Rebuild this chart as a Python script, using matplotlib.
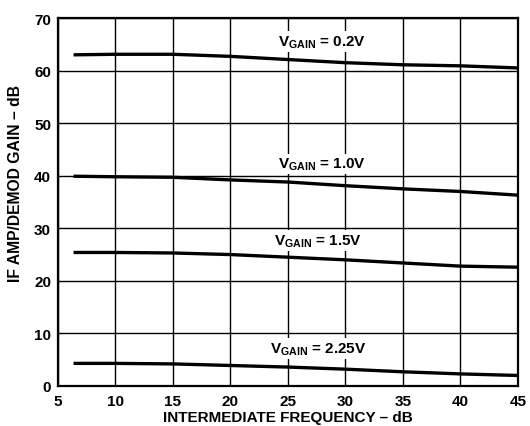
import matplotlib
matplotlib.use("Agg")
import matplotlib.pyplot as plt

plt.rcParams['font.family'] = ['Liberation Sans', 'DejaVu Sans']
plt.rcParams['font.weight'] = 'bold'
plt.rcParams['mathtext.fontset'] = 'custom'
plt.rcParams['mathtext.rm'] = 'Liberation Sans:bold'
plt.rcParams['mathtext.it'] = 'Liberation Sans:bold'
plt.rcParams['mathtext.bf'] = 'Liberation Sans:bold'

freq = [6.5, 10, 15, 20, 25, 30, 35, 40, 45]
gain_02 = [63.0, 63.1, 63.1, 62.7, 62.1, 61.5, 61.1, 60.9, 60.5]
gain_10 = [39.9, 39.8, 39.7, 39.2, 38.8, 38.1, 37.5, 37.0, 36.3]
gain_15 = [25.4, 25.4, 25.3, 25.0, 24.5, 24.0, 23.4, 22.8, 22.6]
gain_225 = [4.3, 4.3, 4.2, 3.9, 3.6, 3.2, 2.7, 2.3, 2.0]

labels = ["V$_{\\mathrm{GAIN}}$ = 0.2V", "V$_{\\mathrm{GAIN}}$ = 1.0V",
          "V$_{\\mathrm{GAIN}}$ = 1.5V", "V$_{\\mathrm{GAIN}}$ = 2.25V"]
label_x = [28.0, 28.0, 27.6, 27.6]
label_y = [65.5, 42.2, 27.7, 7.1]

xticks = [5, 10, 15, 20, 25, 30, 35, 40, 45]
yticks = [0, 10, 20, 30, 40, 50, 60, 70]

fig = plt.figure(figsize=(5.30, 4.27), dpi=100)
ax = fig.add_axes([0.1094, 0.0937, 0.8679, 0.8618])

for s in [gain_02, gain_10, gain_15, gain_225]:
    ax.plot(freq, s, color='black', linewidth=2.4, zorder=3)

for lx, ly, lab in zip(label_x, label_y, labels):
    ax.text(lx, ly, lab, ha='center', va='center', fontsize=11, fontweight='bold',
            bbox=dict(facecolor='white', edgecolor='none', pad=1.5), zorder=4)

ax.set_xlim(5, 45)
ax.set_ylim(0, 70)
ax.set_xticks(xticks)
ax.set_yticks(yticks)
ax.grid(True, color='black', linewidth=1.0, zorder=1)
ax.set_axisbelow(True)
ax.tick_params(length=0, labelsize=11)
ax.tick_params(axis='y', pad=5)
ax.tick_params(axis='x', pad=6)
for lab in ax.get_xticklabels() + ax.get_yticklabels():
    lab.set_fontweight('bold')
for sp in ax.spines.values():
    sp.set_linewidth(1.6)

ax.set_xlabel("INTERMEDIATE FREQUENCY – dB", fontsize=11, fontweight='bold', labelpad=1)
ax.set_ylabel("IF AMP/DEMOD GAIN – dB", fontsize=11.3, fontweight='bold', labelpad=8)
ax.yaxis.set_label_coords(-0.075, 0.554)

fig.savefig("out.png", dpi=100)
